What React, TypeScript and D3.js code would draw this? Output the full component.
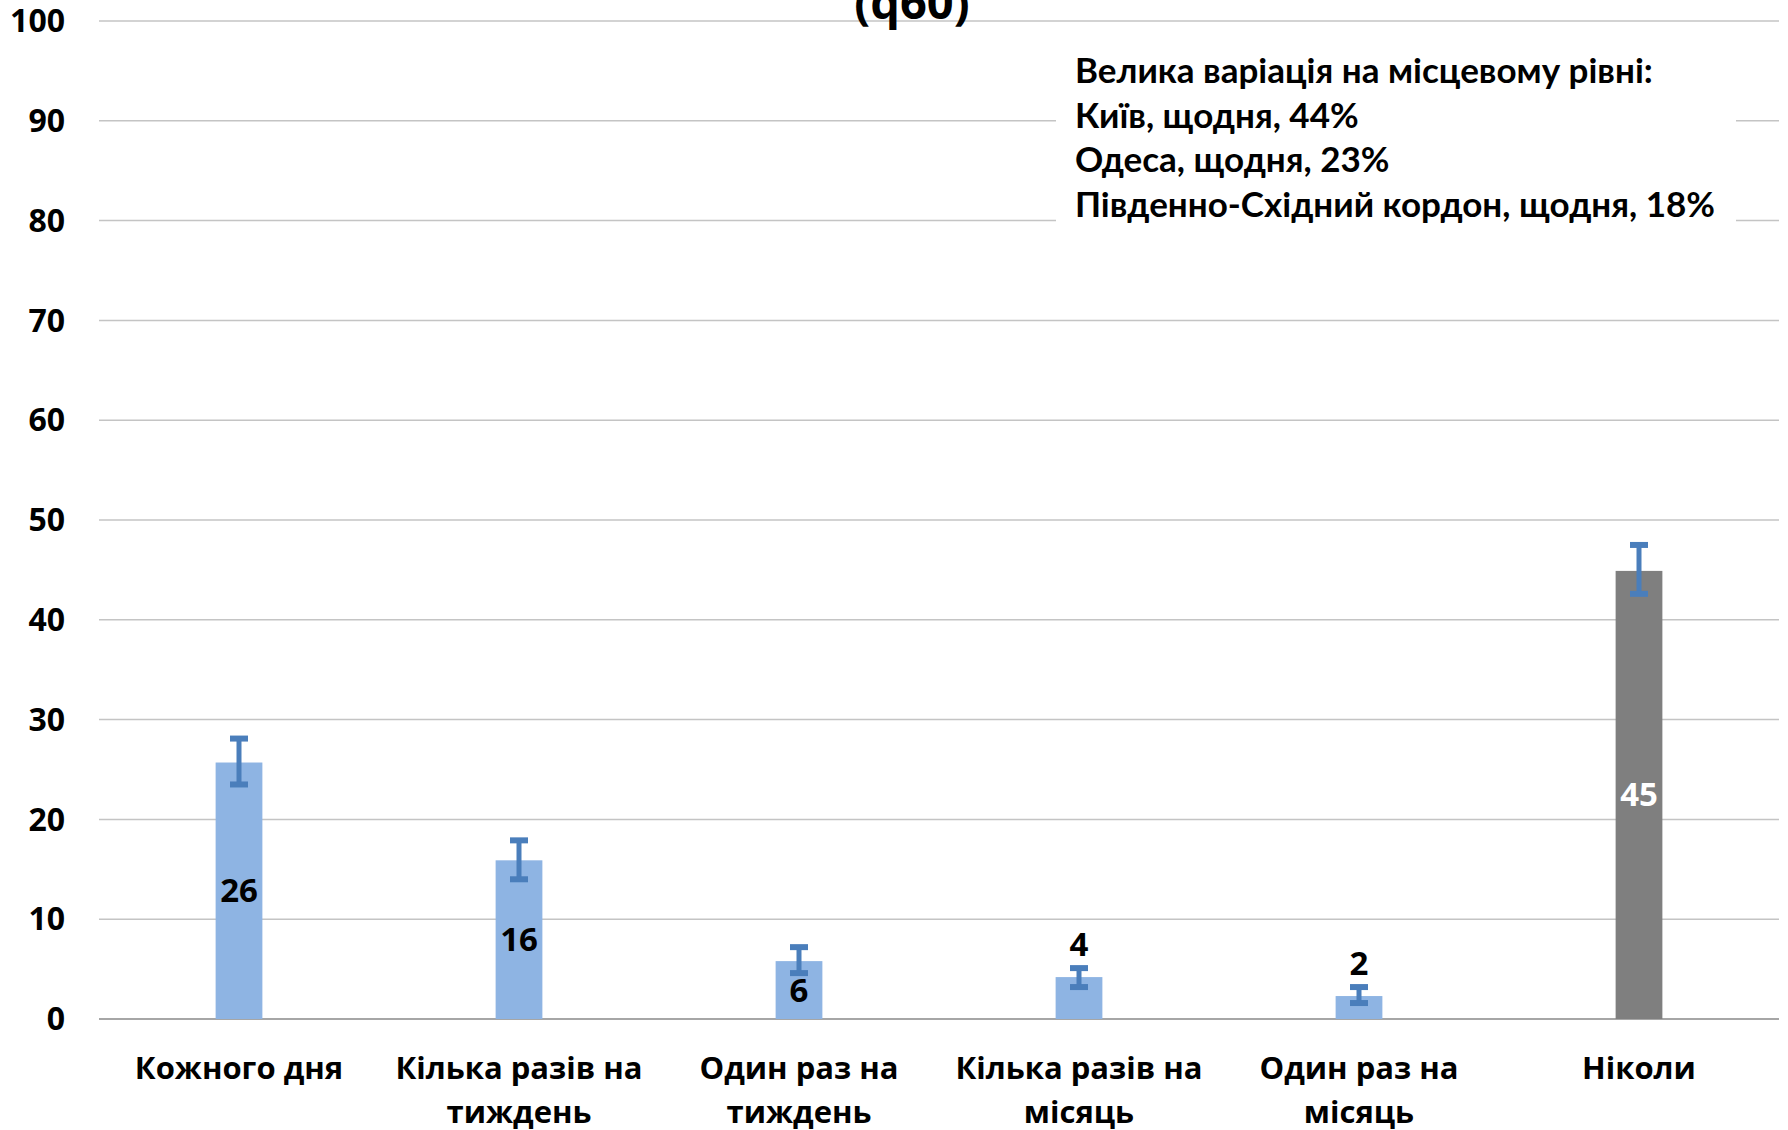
import React, { useEffect, useRef } from 'react';
import * as d3 from 'd3';

const categories = [
    ['Кожного дня'],
    ['Кілька разів на', 'тиждень'],
    ['Один раз на', 'тиждень'],
    ['Кілька разів на', 'місяць'],
    ['Один раз на', 'місяць'],
    ['Ніколи'],
];
const values = [25.7, 15.9, 5.8, 4.2, 2.3, 44.9];
const valueLabels = ['26', '16', '6', '4', '2', '45'];
const errLow = [23.5, 14.0, 4.6, 3.2, 1.6, 42.6];
const errHigh = [28.1, 17.9, 7.2, 5.1, 3.2, 47.5];
const yTicks = [0, 10, 20, 30, 40, 50, 60, 70, 80, 90, 100];
const noteLines = [
    'Велика варіація на місцевому рівні:',
    'Київ, щодня, 44%',
    'Одеса, щодня, 23%',
    'Південно-Східний кордон, щодня, 18%',
];
const titleText = '(q60)';

const W = 1788;
const H = 1130;

const App = () => {
    const chartRef = useRef<SVGSVGElement | null>(null);

    useEffect(() => {
        drawChart(chartRef.current);
    }, []);

    const drawChart = (element: SVGSVGElement | null) => {
        if (!element) return;
        const svg = d3.select(element);
        svg.selectAll('*').remove();

        const axisFont = "'Open Sans', 'DejaVu Sans', sans-serif";
        const noteFont = "Lato, 'Open Sans', sans-serif";

        const x = d3.scaleBand<number>()
            .domain(d3.range(categories.length))
            .range([99, 1779])
            .paddingInner(0.833)
            .paddingOuter(0.833 / 2);

        const y = d3.scaleLinear().domain([0, 100]).range([1019, 21]);

        // gridlines
        svg.append('g')
            .selectAll('line')
            .data(yTicks)
            .enter()
            .append('line')
            .attr('x1', 99)
            .attr('x2', 1779)
            .attr('y1', d => y(d))
            .attr('y2', d => y(d))
            .style('stroke', d => (d === 0 ? '#a6a6a6' : '#c4c4c4'))
            .style('stroke-width', d => (d === 0 ? 2 : 1.5));

        // y tick labels
        svg.append('g')
            .selectAll('text')
            .data(yTicks)
            .enter()
            .append('text')
            .attr('x', 65)
            .attr('y', d => y(d))
            .attr('dy', '0.35em')
            .attr('text-anchor', 'end')
            .style('font-family', axisFont)
            .style('font-weight', 700)
            .style('font-size', '32px')
            .text(d => d);

        // title (cut off at the top, as in the source)
        svg.append('text')
            .attr('x', 912)
            .attr('y', 19)
            .attr('text-anchor', 'middle')
            .style('font-family', axisFont)
            .style('font-weight', 700)
            .style('font-size', '47px')
            .text(titleText);

        // bars
        svg.append('g')
            .selectAll('rect')
            .data(values)
            .enter()
            .append('rect')
            .attr('x', (d, i) => x(i)!)
            .attr('y', d => y(d))
            .attr('width', x.bandwidth())
            .attr('height', d => y(0) - y(d))
            .style('fill', (d, i) => (i === values.length - 1 ? '#7f7f7f' : '#8eb4e3'));

        // error bars
        const err = svg.append('g')
            .style('stroke', '#4a7ebb')
            .style('stroke-width', 5);
        values.forEach((v, i) => {
            const cx = x(i)! + x.bandwidth() / 2;
            err.append('line')
                .attr('x1', cx).attr('x2', cx)
                .attr('y1', y(errLow[i])).attr('y2', y(errHigh[i]));
            [errLow[i], errHigh[i]].forEach(e => {
                err.append('line')
                    .attr('x1', cx - 9).attr('x2', cx + 9)
                    .attr('y1', y(e)).attr('y2', y(e))
                    .style('stroke-width', 6);
            });
        });

        // value labels
        svg.append('g')
            .selectAll('text')
            .data(values)
            .enter()
            .append('text')
            .attr('x', (d, i) => x(i)! + x.bandwidth() / 2)
            .attr('y', (d, i) => (d >= 5 ? y(d / 2) : y(errHigh[i]) - 24))
            .attr('dy', '0.35em')
            .attr('text-anchor', 'middle')
            .style('font-family', axisFont)
            .style('font-weight', 700)
            .style('font-size', '33px')
            .style('fill', (d, i) => (i === values.length - 1 ? '#ffffff' : '#000000'))
            .text((d, i) => valueLabels[i]);

        // category labels
        const cat = svg.append('g')
            .selectAll('text')
            .data(categories)
            .enter()
            .append('text')
            .attr('text-anchor', 'middle')
            .style('font-family', axisFont)
            .style('font-weight', 700)
            .style('font-size', '31px');
        cat.each(function (lines, i) {
            const t = d3.select(this);
            lines.forEach((line, j) => {
                t.append('tspan')
                    .attr('x', x(i)! + x.bandwidth() / 2)
                    .attr('y', 1068 + j * 44)
                    .attr('dy', '0.35em')
                    .text(line);
            });
        });

        // annotation box
        svg.append('rect')
            .attr('x', 1056)
            .attr('y', 36)
            .attr('width', 680)
            .attr('height', 194)
            .style('fill', '#ffffff');

        svg.append('g')
            .selectAll('text')
            .data(noteLines)
            .enter()
            .append('text')
            .attr('x', 1075)
            .attr('y', (d, i) => 71 + i * 44.5)
            .attr('dy', '0.35em')
            .style('font-family', noteFont)
            .style('font-weight', 700)
            .style('font-size', '35px')
            .text(d => d);
    };

    return (
        <svg
            ref={chartRef}
            width={W}
            height={H}
            style={{ position: 'absolute', left: 0, top: 0, display: 'block', background: '#ffffff' }}
        />
    );
};

export default App;
